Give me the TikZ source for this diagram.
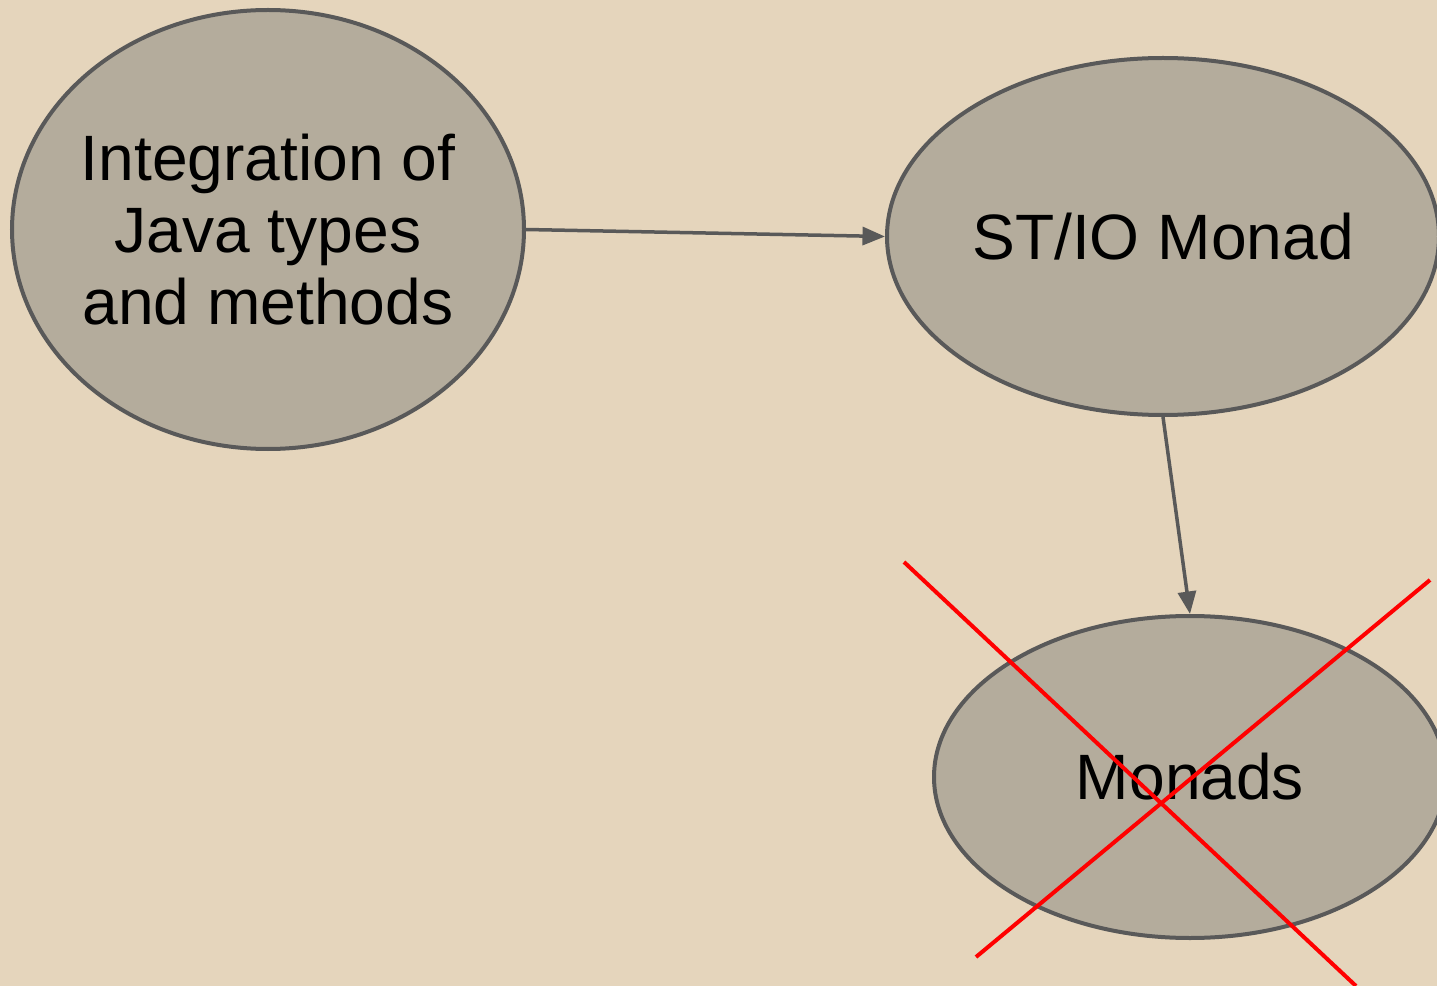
\documentclass[tikz,border=0pt]{standalone}
\usepackage{fontspec}
\setmainfont{Liberation Sans}
\usetikzlibrary{shapes.geometric, arrows.meta}
\definecolor{bgbeige}{HTML}{E5D5BC}
\definecolor{ovalfill}{HTML}{B4AC9C}
\definecolor{ovalline}{HTML}{595959}
\tikzset{
  oval/.style={ellipse, draw=ovalline, fill=ovalfill, line width=0.08cm, inner sep=0pt, align=center,
    font=\fontsize{36.5}{41}\selectfont},
  link/.style={-{Triangle[length=0.45cm,width=0.36cm]}, draw=ovalline, line width=0.07cm},
  strike/.style={red, line width=0.08cm}
}

\begin{document}
\begin{tikzpicture}
\fill[bgbeige] (0,0) rectangle (28.74,-19.72);
\useasboundingbox (0,0) rectangle (28.74,-19.72);
\node[oval, inner xsep=-0.2cm, minimum width=10.24cm, minimum height=8.78cm] (java) at (5.36,-4.59) {Integration of\\Java types\\and methods};
\node[oval, minimum width=11.04cm, minimum height=7.14cm] (stio) at (23.26,-4.73) {ST/IO Monad};
\node[oval, minimum width=10.24cm, minimum height=6.44cm] (monads) at (23.8,-15.54) {Monads};
\draw [link] (java.east) -- (stio.west);
\draw [link] (stio.south) -- (monads.north);
\coordinate (crossA) at (18.08,-11.24);
\coordinate (crossB) at (27.12,-19.72);
\coordinate (crossC) at (19.52,-19.14);
\coordinate (crossD) at (28.6,-11.6);
\draw [strike] (crossA) -- (crossB);
\draw [strike] (crossC) -- (crossD);
\end{tikzpicture}
\end{document}
